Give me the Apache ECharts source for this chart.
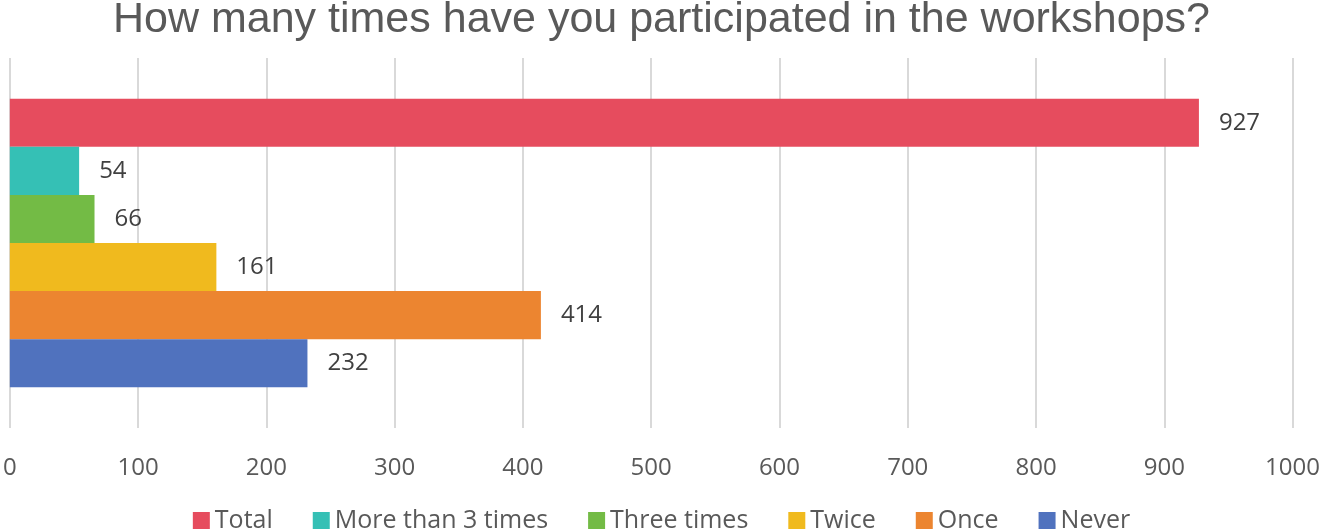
<!DOCTYPE html>
<html><head><meta charset="utf-8">
<script src="https://cdn.jsdelivr.net/npm/echarts@6/dist/echarts.min.js"></script>
<style>html,body{margin:0;padding:0;background:#fff}#c{width:1323px;height:529px}</style>
</head><body><div id="c"></div>
<script>
var seriesNames = ['Total','More than 3 times','Three times','Twice','Once','Never'];
var seriesValues = [927,54,66,161,414,232];
var colors = ['#E64C5E','#35C0B5','#73BB45','#F0BA1E','#EC8530','#5072BE'];
var chart = echarts.init(document.getElementById('c'));
var series = seriesNames.map(function(n,i){
  return {name:n,type:'bar',data:[seriesValues[i]],itemStyle:{color:colors[i]},
    barGap:'0%',barCategoryGap:'22%',
    label:{show:true,position:'right',distance:20,fontSize:24,color:'#404040',fontFamily:'Open Sans'}};
});
chart.setOption({
  animation:false,
  title:{text:'How many times have you participated in the workshops?',left:'center',top:-6,
    textStyle:{fontSize:43,fontWeight:'normal',color:'#595959',fontFamily:'Liberation Sans'}},
  legend:{data:seriesNames,bottom:-9,left:'center',itemWidth:17,itemHeight:17,itemGap:40,icon:'rect',
    textStyle:{fontSize:25,color:'#595959',fontFamily:'Open Sans'}},
  grid:{left:7,right:29,top:58,bottom:101,containLabel:false},
  xAxis:{type:'value',min:0,max:1000,interval:100,
    axisLabel:{fontSize:24,color:'#595959',margin:28,fontFamily:'Open Sans',formatter:function(v){return String(v);}},
    splitLine:{lineStyle:{color:'#d9d9d9',width:2}},axisLine:{show:false},axisTick:{show:false}},
  yAxis:{type:'category',inverse:true,data:[''],axisLine:{show:false},axisTick:{show:false},axisLabel:{show:false}},
  series:series
});
</script></body></html>
